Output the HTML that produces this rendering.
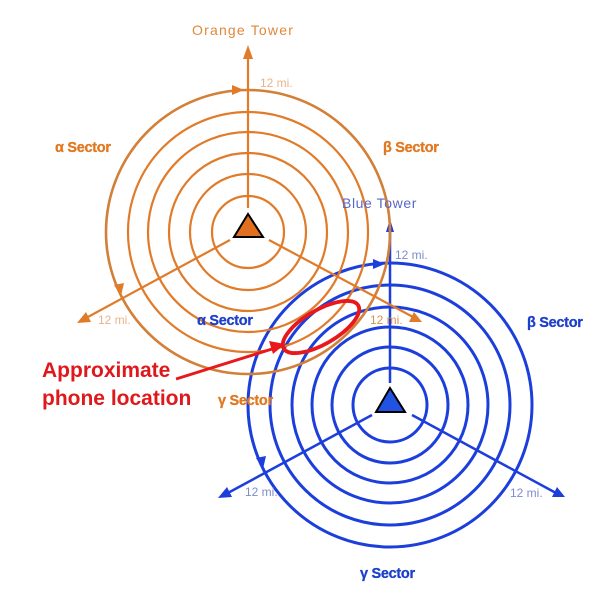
<!DOCTYPE html>
<html>
<head>
<meta charset="utf-8">
<style>
  html,body{margin:0;padding:0;background:#fff;}
  svg{display:block;}
  .sec{font-family:"Liberation Sans",sans-serif;font-weight:bold;font-size:14.5px;letter-spacing:-0.3px;stroke-width:0.3px;}
  .mi{font-family:"Liberation Sans",sans-serif;font-size:12px;}
</style>
</head>
<body>
<svg width="612" height="600" viewBox="0 0 612 600" xmlns="http://www.w3.org/2000/svg">
  <rect width="612" height="600" fill="#fff"/>

  <!-- BLUE TOWER -->
  <g fill="none" stroke="#1c3fdc" stroke-width="3">
    <circle cx="390" cy="405" r="37"/>
    <circle cx="390" cy="405" r="58"/>
    <circle cx="390" cy="405" r="78"/>
    <circle cx="390" cy="405" r="98"/>
    <circle cx="390" cy="405" r="120"/>
    <circle cx="390" cy="405" r="142"/>
  </g>
  <g stroke="#1c3fdc" stroke-width="2.5" fill="none">
    <line x1="390" y1="383" x2="390" y2="228"/>
    <line x1="372" y1="415" x2="226" y2="494"/>
    <line x1="412" y1="415" x2="556" y2="493"/>
  </g>
  <g fill="#1c3fdc">
    <polygon points="390,219 386,232 394,232"/>
    <polygon points="218,498 227,487 232,497"/>
    <polygon points="565,497 552,497 557,487"/>
    <polygon points="385,264 373,259 373,269"/>
    <polygon points="263,469 256,458 266,456"/>
  </g>
  <polygon points="390,388 376,412 405,412" fill="#2252e2" stroke="#000" stroke-width="2" stroke-linejoin="miter"/>

  <!-- ORANGE TOWER -->
  <g fill="none" stroke="#e07b2a" stroke-width="2.2">
    <circle cx="248" cy="232" r="36"/>
    <circle cx="248" cy="232" r="58"/>
    <circle cx="248" cy="232" r="79"/>
    <circle cx="248" cy="232" r="100"/>
    <circle cx="248" cy="232" r="120"/>
  </g>
  <circle cx="248" cy="232" r="142" fill="none" stroke="#d27f38" stroke-width="2.6"/>
  <g stroke="#e07b2a" stroke-width="2.2" fill="none">
    <line x1="248" y1="208" x2="248" y2="56"/>
    <line x1="230" y1="240" x2="86" y2="318"/>
    <line x1="269" y1="240" x2="413" y2="317"/>
  </g>
  <g fill="#e07b2a">
    <polygon points="248,45 243,59 253,59"/>
    <polygon points="77,323 86,312 91,322"/>
    <polygon points="422,322 409,322 414,312"/>
    <polygon points="244,90 232,85 232,95"/>
    <polygon points="121,296 114,285 124,283"/>
  </g>
  <polygon points="248,214 234,237 263,237" fill="#e07020" stroke="#000" stroke-width="2" stroke-linejoin="miter"/>

  <!-- RED ELLIPSE + ARROW -->
  <ellipse cx="321" cy="327" rx="43" ry="17" transform="rotate(-30 321 327)" fill="none" stroke="#e8181c" stroke-width="3.8"/>
  <line x1="176" y1="379" x2="272" y2="349" stroke="#e8181c" stroke-width="3"/>
  <polygon points="285,344 269,341 273,354" fill="#e8181c"/>

  <!-- LABELS -->
  <text x="192" y="35" font-family="Liberation Sans, sans-serif" font-size="14" letter-spacing="1.2" fill="#e0883a">Orange Tower</text>
  <text x="342" y="208" font-family="Liberation Sans, sans-serif" font-size="14" letter-spacing="0.6" fill="#5868c8">Blue Tower</text>

  <text class="sec" x="55" y="152" fill="#e07820" stroke="#e07820">α Sector</text>
  <text class="sec" x="383" y="152" fill="#e07820" stroke="#e07820">β Sector</text>
  <text class="sec" x="218" y="405" fill="#e07820" stroke="#e07820">γ Sector</text>

  <text class="sec" x="197" y="325" fill="#1c3fcc" stroke="#1c3fcc">α Sector</text>
  <text class="sec" x="527" y="327" fill="#1c3fcc" stroke="#1c3fcc">β Sector</text>
  <text class="sec" x="360" y="578" fill="#1c3fcc" stroke="#1c3fcc">γ Sector</text>

  <text class="mi" x="260" y="87" fill="#e8b48a">12 mi.</text>
  <text class="mi" x="98" y="324" fill="#e8b48a">12 mi.</text>
  <text class="mi" x="370" y="324" fill="#d6924e">12 mi.</text>
  <text class="mi" x="395" y="259" fill="#7f8ccc">12 mi.</text>
  <text class="mi" x="245" y="496" fill="#7f8ccc">12 mi.</text>
  <text class="mi" x="510" y="497" fill="#7f8ccc">12 mi.</text>

  <text x="42" y="377" font-family="Liberation Sans, sans-serif" font-weight="bold" font-size="21" fill="#e0181c">Approximate</text>
  <text x="42" y="405" font-family="Liberation Sans, sans-serif" font-weight="bold" font-size="21" fill="#e0181c">phone location</text>
</svg>
</body>
</html>
